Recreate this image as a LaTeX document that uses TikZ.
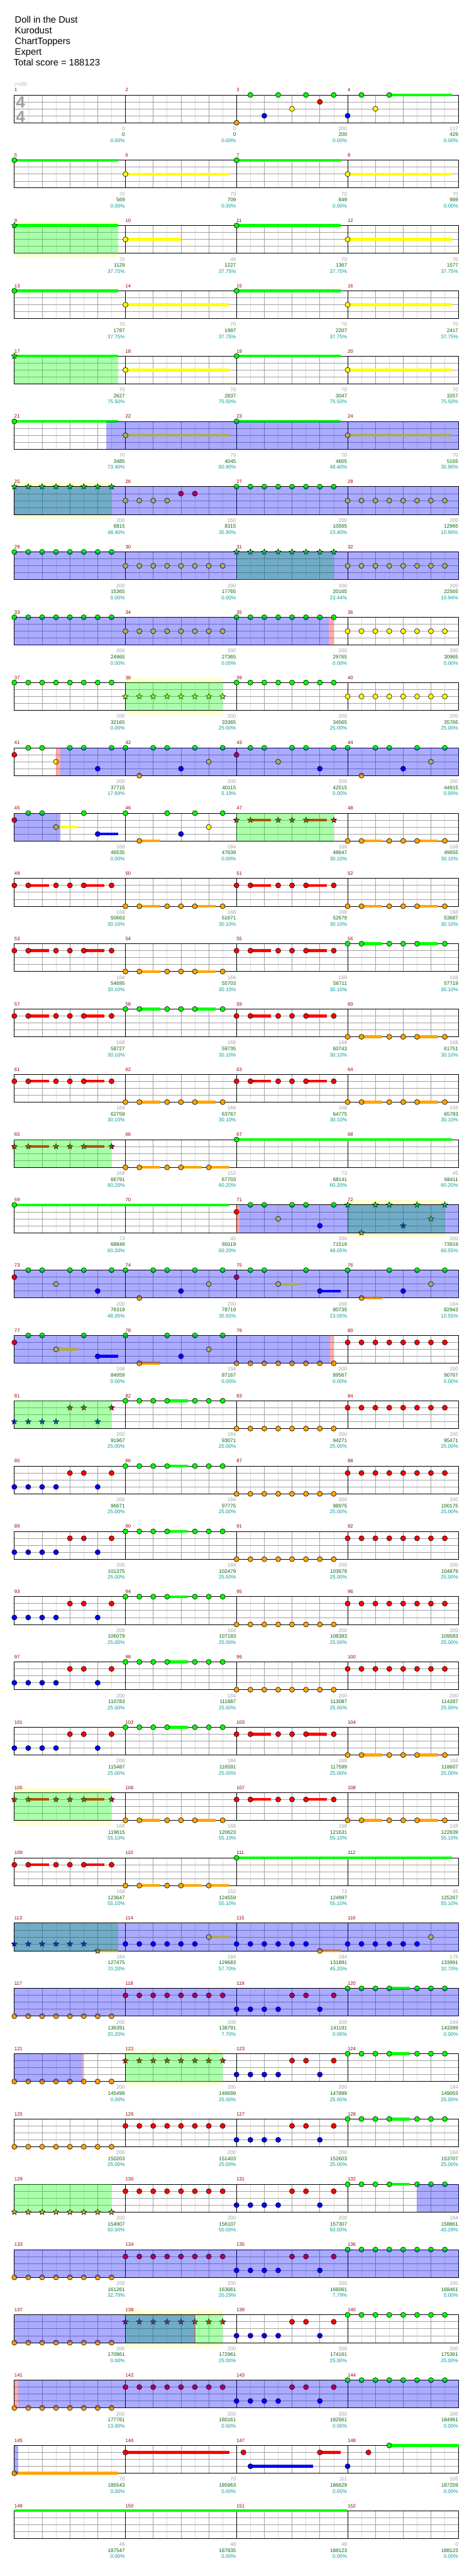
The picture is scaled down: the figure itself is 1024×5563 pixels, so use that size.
\documentclass[tikz,border=0pt]{standalone}
\usepackage{fontspec}
\setmainfont{Liberation Sans}
\newfontfamily\symfont{DejaVu Sans}
\definecolor{ln0}{HTML}{00FF00}
\definecolor{ln1}{HTML}{FF0000}
\definecolor{ln2}{HTML}{FFFF00}
\definecolor{ln3}{HTML}{0000FF}
\definecolor{ln4}{HTML}{FFA500}
\definecolor{gridq}{HTML}{A0A0A0}
\definecolor{gride}{HTML}{DCDCDC}
\definecolor{yfill}{HTML}{FFFFD2}
\definecolor{mred}{HTML}{990000}
\definecolor{sgray}{HTML}{A0A0A0}
\definecolor{sgreen}{HTML}{006400}
\definecolor{steal}{HTML}{009999}
\tikzset{
  notec/.style={draw=black,line width=0.8pt},
  lane0/.style={fill=ln0}, lane1/.style={fill=ln1}, lane2/.style={fill=ln2},
  lane3/.style={fill=ln3}, lane4/.style={fill=ln4},
  gridA/.style={draw=gridq,line width=1pt},
  gridB/.style={draw=gride,line width=1pt},
  barl/.style={draw=black,line width=1pt},
  staffl/.style={draw=black,line width=1.2pt},
  spov/.style={fill=ln0,fill opacity=0.33},
  actov/.style={fill=ln3,fill opacity=0.33},
  endov/.style={fill=ln1,fill opacity=0.33},
  yb/.style={fill=yfill},
  ttl/.style={anchor=base west,inner sep=0pt,font=\fontsize{20}{23}\selectfont},
  mnum/.style={anchor=base west,inner sep=0pt,text=mred,font=\fontsize{10.5}{12}\selectfont},
  sca/.style={anchor=base east,inner sep=0pt,text=sgray,font=\fontsize{11}{13}\selectfont},
  scb/.style={sca,text=sgreen},
  scc/.style={sca,text=steal},
  tsig/.style={anchor=base,inner sep=0pt,text=gridq,font=\fontsize{35}{36}\selectfont\bfseries}}

% measure #1, position #2 (eighths) -> \nX, \nY (top of the staff row)
\newcommand{\mxy}[2]{%
  \pgfmathtruncatemacro{\nR}{(#1-1)/4}%
  \pgfmathsetmacro{\nX}{31+240*(#1-1-4*\nR)+30*(#2)}%
  \pgfmathsetmacro{\nY}{205+141*\nR}}
\newcommand{\nt}[3]{\mxy{#1}{#2}%
  \filldraw[notec,lane#3] (\nX,{\nY+15*#3}) circle[radius=5.5pt];}
\newcommand{\stn}[3]{\mxy{#1}{#2}%
  \filldraw[notec,lane#3] (\nX,{\nY+15*#3}) +(90:6.5pt) -- +(126:2.8pt) -- +(162:6.5pt)
    -- +(198:2.8pt) -- +(234:6.5pt) -- +(270:2.8pt) -- +(306:6.5pt) -- +(342:2.8pt)
    -- +(18:6.5pt) -- +(54:2.8pt) -- cycle;}
\newcommand{\sus}[4]{\mxy{#1}{#2}\pgfmathsetmacro{\hE}{\nX+30*(#3-#2)}%
  \fill[lane#4] (\nX,{\nY+15*#4-3}) rectangle (\hE,{\nY+15*#4+3});}
\newcommand{\hnt}[4]{\sus{#1}{#2}{#3}{#4}\nt{#1}{#2}{#4}}
\newcommand{\hst}[4]{\sus{#1}{#2}{#3}{#4}\stn{#1}{#2}{#4}}
\newcommand{\ovl}[4]{\mxy{#2}{#3}\pgfmathsetmacro{\hE}{\nX+30*(#4-#3)}%
  \fill[#1] (\nX,\nY) rectangle (\hE,{\nY+60});}
\newcommand{\ybox}[3]{\mxy{#1}{#2}\pgfmathsetmacro{\hE}{\nX+30*(#3-#2)}%
  \fill[yb] (\nX,{\nY-10}) rectangle (\hE,{\nY+70});}
% repeated figures
\newcommand{\eight}[3]{\foreach \q in {0,...,7}{#3{#1}{\q}{#2}}}
\newcommand{\patP}[3]{#3{#1}{0}{#2}\sus{#1}{1}{2.5}{#2}#3{#1}{1}{#2}#3{#1}{3}{#2}%
  #3{#1}{4}{#2}\sus{#1}{5}{6.5}{#2}#3{#1}{5}{#2}#3{#1}{7}{#2}}
\newcommand{\patQ}[1]{\nt{#1}{0}{4}\hnt{#1}{1}{2.5}{4}\nt{#1}{3}{4}\hnt{#1}{4}{5.5}{4}\hnt{#1}{6}{7.5}{4}}
\newcommand{\patG}[1]{\nt{#1}{0}{0}\nt{#1}{1}{0}\nt{#1}{2}{0}\hnt{#1}{3}{4.5}{0}%
  \nt{#1}{5}{0}\nt{#1}{6}{0}\nt{#1}{7}{0}}
\newcommand{\patRB}[2]{#2{#1}{0}{3}#2{#1}{1}{3}#2{#1}{2}{3}#2{#1}{3}{3}#2{#1}{6}{3}%
  #2{#1}{4}{1}#2{#1}{5}{1}#2{#1}{7}{1}}
\newcommand{\riffA}[2]{#2{#1}{0}{1}#2{#1}{1}{0}#2{#1}{2}{0}#2{#1}{3}{2}%
  #2{#1}{4}{0}#2{#1}{5}{0}#2{#1}{6}{3}#2{#1}{7}{0}}
\newcommand{\riffB}[2]{#2{#1}{0}{0}#2{#1}{1}{4}#2{#1}{2}{0}#2{#1}{3}{0}%
  #2{#1}{4}{3}#2{#1}{5}{0}#2{#1}{6}{2}#2{#1}{7}{0}}
\newcommand{\riffC}[1]{\nt{#1}{0}{1}\nt{#1}{1}{0}\nt{#1}{2}{0}\hnt{#1}{3}{4.5}{2}%
  \nt{#1}{5}{0}\hnt{#1}{6}{7.5}{3}}
\newcommand{\riffD}[1]{\nt{#1}{0}{0}\hnt{#1}{1}{2.5}{4}\nt{#1}{3}{0}\nt{#1}{4}{3}%
  \nt{#1}{5}{0}\nt{#1}{6}{2}\nt{#1}{7}{0}}

\begin{document}
\begin{tikzpicture}[x=1pt,y=-1pt]
  \path[use as bounding box,fill=white] (0,0) rectangle (1024,5563);

  % header
  \node[ttl] (title) at (32,49.3) {Doll in the Dust};
  \node[ttl] (artist) at (32,72.3) {Kurodust};
  \node[ttl] (charter) at (32,95.3) {ChartToppers};
  \node[ttl] (level) at (32,118.3) {Expert};
  \node[ttl] (total) at (29.5,141.3) {Total score = 188123};
  \node[anchor=base west,inner sep=0pt,text=sgray,font=\fontsize{10}{12}\selectfont]
    (tempo) at (30,186) {{\symfont ♩}=120};

  % star phrase boxes behind the staff
  \foreach \m/\a/\b in {9/0/7.5,25/0/7,38/0/7,72/0/7,105/0/7,122/0/7,138/0/7}
    {\ybox{\m}{\a}{\b}}

  % staff rows
  \foreach \r in {0,...,37}{
    \pgfmathsetmacro{\yt}{205+141*\r}
    \fill[white] (31,\yt) rectangle (991,{\yt+60});
    \foreach \j in {1,3,...,31} \draw[gridB] ({31+30*\j},\yt) -- ++(0,60);
    \foreach \j in {2,4,6,10,12,14,18,20,22,26,28,30} \draw[gridA] ({31+30*\j},\yt) -- ++(0,60);
    \foreach \k in {15,30,45} \draw[gridA] (31,{\yt+\k}) -- (991,{\yt+\k});
    \foreach \j in {8,16,24} \draw[barl] ({31+30*\j},\yt) -- ++(0,60);
    \draw[staffl] (31,\yt) rectangle (991,{\yt+60});
  }
  \node[tsig] (tsa) at (44.5,233) {4};
  \node[tsig] (tsb) at (44.5,264) {4};

  % notes
  \nt{3}{0}{4}
  \foreach \p in {1,3,5,7}{\nt{3}{\p}{0}}
  \nt{3}{2}{3} \nt{3}{4}{2} \nt{3}{6}{1}
  \nt{4}{0}{3} \nt{4}{1}{0} \nt{4}{2}{2} \hnt{4}{3}{7.5}{0}
  \hnt{5}{0}{7.5}{0} \hnt{6}{0}{7.5}{2} \hnt{7}{0}{7.5}{0} \hnt{8}{0}{7.5}{2}
  \hst{9}{0}{7.5}{0} \hnt{10}{0}{4}{2} \hnt{11}{0}{7.5}{0} \hnt{12}{0}{7.5}{2}
  \hnt{13}{0}{7.5}{0} \hnt{14}{0}{7.5}{2} \hnt{15}{0}{7.5}{0} \hnt{16}{0}{7.5}{2}
  \hst{17}{0}{7.5}{0} \hnt{18}{0}{7.5}{2} \hnt{19}{0}{7.5}{0} \hnt{20}{0}{7.5}{2}
  \hnt{21}{0}{7.5}{0} \hnt{22}{0}{7.5}{2} \hnt{23}{0}{7.5}{0} \hnt{24}{0}{7.5}{2}
  \eight{25}{0}{\stn} \foreach \p in {0,...,3}{\nt{26}{\p}{2}} \nt{26}{4}{1} \nt{26}{5}{1}
  \eight{27}{0}{\nt} \eight{28}{2}{\nt}
  \eight{29}{0}{\nt} \eight{30}{2}{\nt} \eight{31}{0}{\stn} \eight{32}{2}{\nt}
  \eight{33}{0}{\nt} \eight{34}{2}{\nt} \eight{35}{0}{\nt} \eight{36}{2}{\nt}
  \eight{37}{0}{\nt} \eight{38}{2}{\stn} \eight{39}{0}{\nt} \eight{40}{2}{\nt}
  \riffA{41}{\nt} \riffB{42}{\nt} \riffA{43}{\nt} \riffB{44}{\nt}
  \riffC{45} \riffD{46} \patP{47}{1}{\stn} \patP{48}{4}{\nt}
  \patP{49}{1}{\nt} \patP{50}{4}{\nt} \patP{51}{1}{\nt} \patP{52}{4}{\nt}
  \patP{53}{1}{\nt} \patP{54}{4}{\nt} \patP{55}{1}{\nt} \patP{56}{0}{\nt}
  \patP{57}{1}{\nt} \patP{58}{0}{\nt} \patP{59}{1}{\nt} \patP{60}{4}{\nt}
  \patP{61}{1}{\nt} \patP{62}{4}{\nt} \patP{63}{1}{\nt} \patP{64}{4}{\nt}
  \patP{65}{1}{\stn} \patQ{66} \hnt{67}{0}{15.5}{0}
  \hnt{69}{0}{15.5}{0} \riffA{71}{\nt} \riffB{72}{\stn}
  \riffA{73}{\nt} \riffB{74}{\nt} \riffC{75} \riffD{76}
  \riffC{77} \riffD{78} \eight{79}{4}{\nt} \eight{80}{1}{\nt}
  \patRB{81}{\stn} \patG{82} \eight{83}{4}{\nt} \eight{84}{1}{\nt}
  \patRB{85}{\nt} \patG{86} \eight{87}{4}{\nt} \eight{88}{1}{\nt}
  \patRB{89}{\nt} \patG{90} \eight{91}{4}{\nt} \eight{92}{1}{\nt}
  \patRB{93}{\nt} \patG{94} \eight{95}{4}{\nt} \eight{96}{1}{\nt}
  \patRB{97}{\nt} \patG{98} \eight{99}{4}{\nt} \eight{100}{1}{\nt}
  \patRB{101}{\nt} \patG{102} \patP{103}{1}{\nt} \patP{104}{4}{\nt}
  \patP{105}{1}{\stn} \patP{106}{4}{\nt} \patP{107}{1}{\nt} \patP{108}{4}{\nt}
  \patP{109}{1}{\nt} \patQ{110} \hnt{111}{0}{15.5}{0}
  \foreach \p in {0,...,5}{\stn{113}{\p}{3}\nt{114}{\p}{3}\nt{115}{\p}{3}\nt{116}{\p}{3}}
  \hst{113}{6}{7.5}{4} \hnt{114}{6}{7.5}{2} \hnt{115}{6}{7.5}{4} \nt{116}{6}{2}
  \eight{117}{4}{\nt} \eight{118}{1}{\nt} \patRB{119}{\nt} \patG{120}
  \eight{121}{4}{\nt} \eight{122}{1}{\stn} \patRB{123}{\nt} \patG{124}
  \eight{125}{4}{\nt} \eight{126}{1}{\nt} \patRB{127}{\nt} \patG{128}
  \eight{129}{4}{\stn} \eight{130}{1}{\nt} \patRB{131}{\nt} \patG{132}
  \eight{133}{4}{\nt} \eight{134}{1}{\nt} \patRB{135}{\nt} \eight{136}{0}{\nt}
  \eight{137}{4}{\nt} \eight{138}{1}{\stn} \patRB{139}{\nt} \eight{140}{0}{\nt}
  \eight{141}{4}{\nt} \eight{142}{1}{\nt} \patRB{143}{\nt} \eight{144}{0}{\nt}
  \hnt{145}{0}{7.5}{4} \hnt{146}{0}{7.5}{1}
  \nt{147}{0.5}{1} \hnt{147}{1}{5.5}{3} \hnt{147}{6}{7.5}{1}
  \nt{148}{0}{3} \nt{148}{1.5}{1} \hnt{148}{3}{8}{0}
  \sus{149}{0}{24}{0}

  % star power phrases, then activation, then its ends
  \foreach \m/\a/\b in {9/0/7.5,17/0/7.5,25/0/7,31/0/7,38/0/7,47/0/7,65/0/7,72/0/7,
      81/0/7,105/0/7,113/0/7.5,122/0/7,129/0/7,138/0/7}
    {\ovl{spov}{\m}{\a}{\b}}
  \foreach \m/\a/\b in {21/6.63/32,25/0/32,29/0/32,33/0/22.63,41/3.3/32,45/0/3.3,
      71/0.2/16,73/0/32,77/0/22.73,113/0/32,117/0/32,121/0/4.9,132/5/8,133/0/32,
      137/0/13,141/0.3/32,145/0/0.3}
    {\ovl{actov}{\m}{\a}{\b}}
  \foreach \m/\a/\b in {33/22.63/23,41/3/3.3,71/0/0.2,77/22.73/23,121/4.9/5,
      137/12.97/13.05,141/0/0.3}
    {\ovl{endov}{\m}{\a}{\b}}

  % measure numbers and running scores
  \foreach \m/\a/\b/\c in {1/0/0/0.00,2/0/0/0.00,3/200/200/0.00,4/127/429/0.00,
      5/70/569/0.00,6/70/709/0.00,7/70/849/0.00,8/70/989/0.00,
      9/70/1129/37.75,10/49/1227/37.75,11/70/1367/37.75,12/70/1577/37.75,
      13/70/1787/37.75,14/70/1997/37.75,15/70/2207/37.75,16/70/2417/37.75,
      17/70/2627/75.50,18/70/2837/75.50,19/70/3047/75.50,20/70/3257/75.50,
      21/70/3485/73.40,22/70/4045/60.90,23/70/4605/48.40,24/70/5165/35.90,
      25/200/6815/48.40,26/150/8315/35.90,27/200/10565/23.40,28/200/12965/10.90,
      29/200/15365/0.00,30/200/17765/0.00,31/200/20165/23.44,32/200/22565/10.94,
      33/200/24965/0.00,34/200/27365/0.00,35/200/29765/0.00,36/200/30965/0.00,
      37/200/32165/0.00,38/200/33365/25.00,39/200/34565/25.00,40/200/35765/25.00,
      41/200/37715/17.69,42/200/40115/5.19,43/200/42515/0.00,44/200/44915/0.00,
      45/168/46535/0.00,46/184/47639/0.00,47/168/48647/30.10,48/168/49655/30.10,
      49/168/50663/30.10,50/168/51671/30.10,51/168/52679/30.10,52/168/53687/30.10,
      53/168/54695/30.10,54/168/55703/30.10,55/168/56711/30.10,56/168/57719/30.10,
      57/168/58727/30.10,58/168/59735/30.10,59/168/60743/30.10,60/168/61751/30.10,
      61/168/62759/30.10,62/168/63767/30.10,63/168/64775/30.10,64/168/65783/30.10,
      65/168/66791/60.20,66/152/67703/60.20,67/73/68141/60.20,68/45/68411/60.20,
      69/73/68849/60.20,70/45/69119/60.20,71/200/71519/48.05,72/200/73919/60.55,
      73/200/76319/48.05,74/200/78719/35.55,75/168/80735/23.05,76/184/82943/10.55,
      77/168/84959/0.00,78/184/87167/0.00,79/200/89567/0.00,80/200/90767/0.00,
      81/200/91967/25.00,82/184/93071/25.00,83/200/94271/25.00,84/200/95471/25.00,
      85/200/96671/25.00,86/184/97775/25.00,87/200/98975/25.00,88/200/100175/25.00,
      89/200/101375/25.00,90/184/102479/25.00,91/200/103679/25.00,92/200/104879/25.00,
      93/200/106079/25.00,94/184/107183/25.00,95/200/108383/25.00,96/200/109583/25.00,
      97/200/110783/25.00,98/184/111887/25.00,99/200/113087/25.00,100/200/114287/25.00,
      101/200/115487/25.00,102/184/116591/25.00,103/168/117599/25.00,104/168/118607/25.00,
      105/168/119615/55.10,106/168/120623/55.10,107/168/121631/55.10,108/168/122639/55.10,
      109/168/123647/55.10,110/152/124559/55.10,111/73/124997/55.10,112/45/125267/55.10,
      113/184/127475/70.20,114/184/129683/57.70,115/184/131891/45.20,116/175/133991/32.70,
      117/200/136391/20.20,118/200/138791/7.70,119/200/141191/0.00,120/184/143399/0.00,
      121/200/145499/0.00,122/200/146699/25.00,123/200/147899/25.00,124/184/149003/25.00,
      125/200/150203/25.00,126/200/151403/25.00,127/200/152603/25.00,128/184/153707/25.00,
      129/200/154907/50.00,130/200/156107/50.00,131/200/157307/50.00,132/184/158861/45.29,
      133/200/161261/32.79,134/200/163661/20.29,135/200/166061/7.79,136/200/168461/0.00,
      137/200/170861/0.00,138/200/172961/25.00,139/200/174161/25.00,140/200/175361/25.00,
      141/200/177761/13.00,142/200/180161/0.50,143/200/182561/0.00,144/200/184961/0.00,
      145/70/185543/0.00,146/70/185963/0.00,147/111/186629/0.00,148/105/187259/0.00,
      149/48/187547/0.00,150/48/187835/0.00,151/48/188123/0.00,152/0/188123/0.00}{
    \mxy{\m}{0}
    \node[mnum] (mn\m) at (\nX,{\nY-7}) {\m};
    \node[sca] (sa\m) at ({\nX+239},{\nY+76.7}) {\a};
    \node[scb] (sb\m) at ({\nX+239},{\nY+89.7}) {\b};
    \node[scc] (sc\m) at ({\nX+239},{\nY+102.7}) {\c\%};
  }
\end{tikzpicture}
\end{document}
